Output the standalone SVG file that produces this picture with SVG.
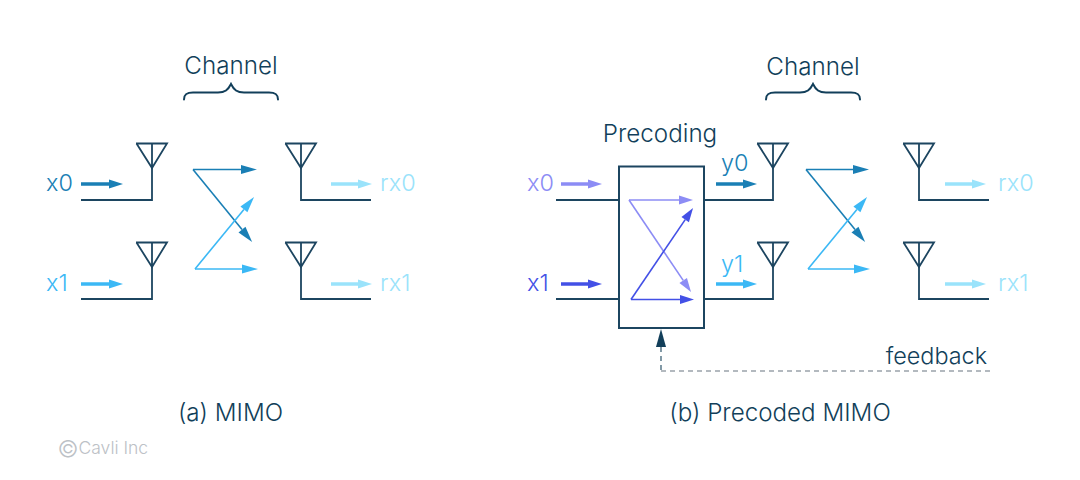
<svg xmlns="http://www.w3.org/2000/svg" width="1080" height="480" viewBox="0 0 1080 480">
<style>
text{font-family:"Inter","Noto Sans",sans-serif;font-size:23.400px;font-weight:300}
.big{font-size:24.200px}
.d{fill:#123f5a}
.bd{fill:#1a7fb5}.bl{fill:#3bb8f5}.pl{fill:#9ae3fb}.li{fill:#8c8cf5}.in{fill:#4350e6}
.ant{fill:none;stroke:#1c4560;stroke-width:1.800}
.w{fill:none;stroke-width:1.600}
.t{fill:none;stroke-width:3.500}
.brace{fill:none;stroke:#123f5a;stroke-width:2;stroke-linecap:round}
.sbd{stroke:#1a7fb5}.sbl{stroke:#3bb8f5}.spl{stroke:#9ae3fb}.sli{stroke:#8c8cf5}.sin{stroke:#4350e6}
</style>
<defs>
<marker id="hbd" markerUnits="userSpaceOnUse" markerWidth="16" markerHeight="10" refX="0" refY="5" orient="auto" overflow="visible"><path d="M0 .5L16 5L0 9.500z" fill="#1a7fb5"/></marker>
<marker id="hbl" markerUnits="userSpaceOnUse" markerWidth="16" markerHeight="10" refX="0" refY="5" orient="auto" overflow="visible"><path d="M0 .5L16 5L0 9.500z" fill="#3bb8f5"/></marker>
<marker id="hli" markerUnits="userSpaceOnUse" markerWidth="14" markerHeight="10" refX="0" refY="5" orient="auto" overflow="visible"><path d="M0 .5L14 5L0 9.500z" fill="#8c8cf5"/></marker>
<marker id="hin" markerUnits="userSpaceOnUse" markerWidth="14" markerHeight="10" refX="0" refY="5" orient="auto" overflow="visible"><path d="M0 .5L14 5L0 9.500z" fill="#4350e6"/></marker>
<marker id="tbd" markerUnits="userSpaceOnUse" markerWidth="14" markerHeight="10" refX="0" refY="5" orient="auto" overflow="visible"><path d="M0 .6L14 5L0 9.400z" fill="#1a7fb5"/></marker>
<marker id="tbl" markerUnits="userSpaceOnUse" markerWidth="14" markerHeight="10" refX="0" refY="5" orient="auto" overflow="visible"><path d="M0 .6L14 5L0 9.400z" fill="#3bb8f5"/></marker>
<marker id="tpl" markerUnits="userSpaceOnUse" markerWidth="14" markerHeight="10" refX="0" refY="5" orient="auto" overflow="visible"><path d="M0 .6L14 5L0 9.400z" fill="#9ae3fb"/></marker>
<marker id="tli" markerUnits="userSpaceOnUse" markerWidth="14" markerHeight="10" refX="0" refY="5" orient="auto" overflow="visible"><path d="M0 .6L14 5L0 9.400z" fill="#8c8cf5"/></marker>
<marker id="tin" markerUnits="userSpaceOnUse" markerWidth="14" markerHeight="10" refX="0" refY="5" orient="auto" overflow="visible"><path d="M0 .6L14 5L0 9.400z" fill="#4350e6"/></marker>
<path id="tri" class="ant" d="M136 143.500H167L152 168L136.500 143.500M152 143.500V168"/>
<path id="antL" class="ant" d="M152 168V200H81"/>
<path id="antR" class="ant" d="M301 168V200H371"/>
</defs>

<g id="a-tx0"><use href="#tri"/><use href="#antL"/><text x="46" y="191" class="bd">x0</text></g>
<g id="a-tx1"><use href="#tri" y="99"/><use href="#antL" y="99"/><text x="46" y="291" class="bl">x1</text></g>
<g id="a-rx0"><use href="#tri" x="149"/><use href="#antR"/><text x="380" y="191" class="pl">rx0</text></g>
<g id="a-rx1"><use href="#tri" x="149" y="99"/><use href="#antR" y="99"/><text x="380" y="291" class="pl">rx1</text></g>
<g id="a-channel"><text x="231" y="73.700" text-anchor="middle" class="d big">Channel</text><path class="brace" d="M184 99.500C184 94 187 92.500 193 92.500H218C225 92.500 228 90 231 84C234 90 237 92.500 244 92.500H269C275 92.500 278 94 278 99.500"/></g>
<g id="a-caption"><text x="230.500" y="421" text-anchor="middle" class="d big">(a) MIMO</text></g>

<g id="b-in0"><path class="ant" d="M556 200H619"/><text x="527" y="191" class="li">x0</text></g>
<g id="b-in1"><path class="ant" d="M556 299H619"/><text x="527" y="291" class="in">x1</text></g>
<g id="b-precoder"><rect x="619" y="166.500" width="85" height="161.500" fill="none" stroke="#1c4560" stroke-width="2"/><text x="660" y="142" text-anchor="middle" class="d big">Precoding</text></g>
<g id="b-tx0"><use href="#tri" x="621"/><path class="ant" d="M773 168V200H704"/><text x="721" y="171" class="bd">y0</text></g>
<g id="b-tx1"><use href="#tri" x="621" y="99"/><path class="ant" d="M773 267V299H704"/><text x="721" y="272" class="bl">y1</text></g>
<g id="b-rx0"><use href="#tri" x="767"/><use href="#antR" x="618"/><text x="998" y="191" class="pl">rx0</text></g>
<g id="b-rx1"><use href="#tri" x="767" y="99"/><use href="#antR" x="618" y="99"/><text x="998" y="291" class="pl">rx1</text></g>
<g id="b-channel"><text x="813" y="74.700" text-anchor="middle" class="d big">Channel</text><path class="brace" d="M766 99.500C766 94 769 92.500 775 92.500H800C807 92.500 810 90 813 84C816 90 819 92.500 826 92.500H851C857 92.500 860 94 860 99.500"/></g>
<g id="b-feedback"><text x="987" y="364" text-anchor="end" class="d">feedback</text></g>
<g id="b-caption"><text x="780" y="421" text-anchor="middle" class="d big">(b) Precoded MIMO</text></g>
<g id="copyright"><text x="57.500" y="454" style="font-size:17.500px" fill="#bcc1c6"><tspan dy="2.500" style="font-size:23px">©</tspan><tspan dy="-2.500">Cavli Inc</tspan></text></g>

<g id="connectors">
<path class="t sbd" d="M81 184H109" marker-end="url(#tbd)"/>
<path class="t sbl" d="M81 284H109" marker-end="url(#tbl)"/>
<path class="t spl" d="M331 184H358" marker-end="url(#tpl)"/>
<path class="t spl" d="M331 284H358" marker-end="url(#tpl)"/>
<path class="w sbd" d="M193 169.500H241" marker-end="url(#hbd)"/>
<path class="w sbd" d="M193 169.500L242 229.600" marker-end="url(#hbd)"/>
<path class="w sbl" d="M195 269H242" marker-end="url(#hbl)"/>
<path class="w sbl" d="M195 269L243.900 209.400" marker-end="url(#hbl)"/>

<path class="t sli" d="M561 184H588" marker-end="url(#tli)"/>
<path class="t sin" d="M561 284H588" marker-end="url(#tin)"/>
<path class="t sbd" d="M716 184H743" marker-end="url(#tbd)"/>
<path class="t sbl" d="M716 284H743" marker-end="url(#tbl)"/>
<path class="t spl" d="M945 184H972" marker-end="url(#tpl)"/>
<path class="t spl" d="M945 284H972" marker-end="url(#tpl)"/>
<path class="w sbd" d="M806 169.500H853" marker-end="url(#hbd)"/>
<path class="w sbd" d="M806 169.500L855 229.600" marker-end="url(#hbd)"/>
<path class="w sbl" d="M808 269H854" marker-end="url(#hbl)"/>
<path class="w sbl" d="M808 269L856.900 209.400" marker-end="url(#hbl)"/>
<path class="w sli" d="M629 200H679" marker-end="url(#hli)"/>
<path class="w sli" d="M629 200L683.200 280.400" marker-end="url(#hli)"/>
<path class="w sin" d="M631 299.500H680" marker-end="url(#hin)"/>
<path class="w sin" d="M631 299.500L685.200 219.600" marker-end="url(#hin)"/>
<path d="M661 347V371" fill="none" stroke="#3f6478" stroke-width="1.300" stroke-dasharray="5 4"/>
<path d="M661 371H992" fill="none" stroke="#9aa3ab" stroke-width="1.300" stroke-dasharray="5 4"/>
<path d="M661 329L666 347H656z" fill="#123f5a"/>
</g>
</svg>
